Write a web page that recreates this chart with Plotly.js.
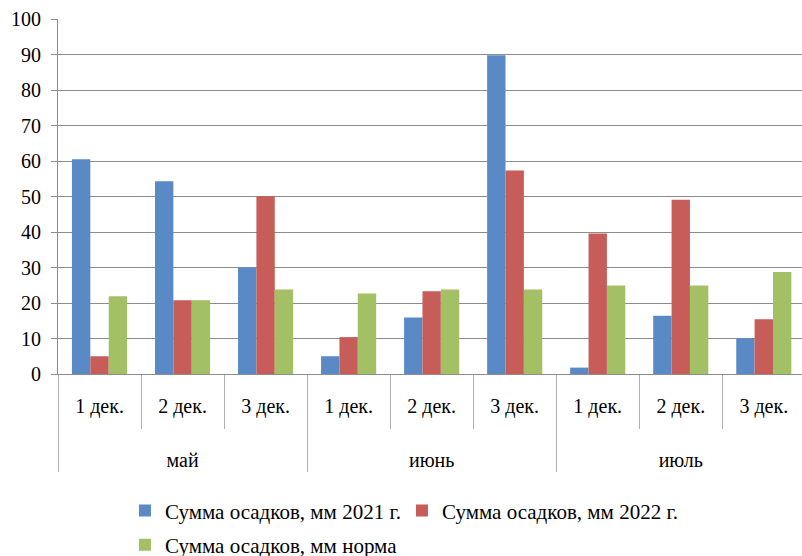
<!DOCTYPE html>
<html>
<head>
<meta charset="utf-8">
<script src="https://cdn.plot.ly/plotly-3.0.1.min.js"></script>
<style>
html,body{margin:0;padding:0;background:#fff;}
#chart{width:802px;height:556px;}
svg text, svg tspan { font-family: 'Liberation Serif', 'Times New Roman', serif !important; }
</style>
</head>
<body>
<div id="chart"></div>
<script>
const months = ["май", "май", "май", "июнь", "июнь", "июнь", "июль", "июль", "июль"];
const dekads = ["1 дек.", "2 дек.", "3 дек.", "1 дек.", "2 дек.", "3 дек.", "1 дек.", "2 дек.", "3 дек."];
const seriesNames = ["Сумма осадков, мм 2021 г.", "Сумма осадков, мм 2022 г.", "Сумма осадков, мм норма"];
const precip2021 = [60.5, 54.3, 30.0, 5.0, 15.9, 89.8, 1.8, 16.4, 10.1];
const precip2022 = [5.0, 20.8, 50.1, 10.4, 23.3, 57.3, 39.6, 49.1, 15.4];
const precipNorm = [21.9, 20.8, 23.8, 22.7, 23.8, 23.8, 24.9, 24.9, 28.7];
const yTicks = [0, 10, 20, 30, 40, 50, 60, 70, 80, 90, 100];

const colors = ["#5A8AC6", "#C65D59", "#A4C064"];
const values = [precip2021, precip2022, precipNorm];
const legendIds = ["legend", "legend", "legend2"];
// inner labels get an extra blank line so the month row sits lower, as in the reference
const dekadLabels = dekads.map(d => d + "<br><span style='font-size:59px'>\u00a0</span>");

const traces = values.map((v, i) => ({
  type: "bar",
  name: seriesNames[i],
  x: [months, dekadLabels],
  y: v,
  legend: legendIds[i],
  marker: {color: colors[i], line: {width: 0}},
  hoverinfo: "y"
}));

function makeFont(size) {
  return {family: "Liberation Serif", size: size || 20, color: "#000000"};
}

const layout = {
  width: 802,
  height: 556,
  margin: {l: 58, r: 0, t: 19, b: 182, autoexpand: false},
  paper_bgcolor: "#fff",
  plot_bgcolor: "#fff",
  font: makeFont(20),
  barmode: "group",
  bargap: 0.336,
  bargroupgap: 0,
  showlegend: true,
  legend: {
    orientation: "h",
    x: 0.09,
    xanchor: "left",
    y: -0.328,
    yanchor: "top",
    font: makeFont(21),
    entrywidth: 232,
    entrywidthmode: "pixels",
    traceorder: "normal"
  },
  legend2: {
    orientation: "h",
    x: 0.09,
    xanchor: "left",
    y: -0.424,
    yanchor: "top",
    font: makeFont(21)
  },
  xaxis: {
    type: "multicategory",
    range: [-0.5, 8.46],
    showline: true,
    linecolor: "#8c8c8c",
    linewidth: 1,
    ticks: "outside",
    ticklen: 54,
    tickcolor: "#b0b0b0",
    tickwidth: 1,
    ticklabelstandoff: 14,
    showdividers: true,
    dividercolor: "#b0b0b0",
    dividerwidth: 1,
    showgrid: false,
    tickfont: makeFont(20)
  },
  yaxis: {
    range: [0, 100],
    tickvals: yTicks,
    showline: true,
    linecolor: "#8c8c8c",
    linewidth: 1,
    ticks: "outside",
    ticklen: 6,
    tickcolor: "#8c8c8c",
    showgrid: true,
    gridcolor: "#8c8c8c",
    gridwidth: 1,
    zeroline: false,
    ticklabelstandoff: 6,
    tickfont: makeFont(20)
  }
};

Plotly.newPlot("chart", traces, layout, {displayModeBar: false, staticPlot: true});
</script>
</body>
</html>
